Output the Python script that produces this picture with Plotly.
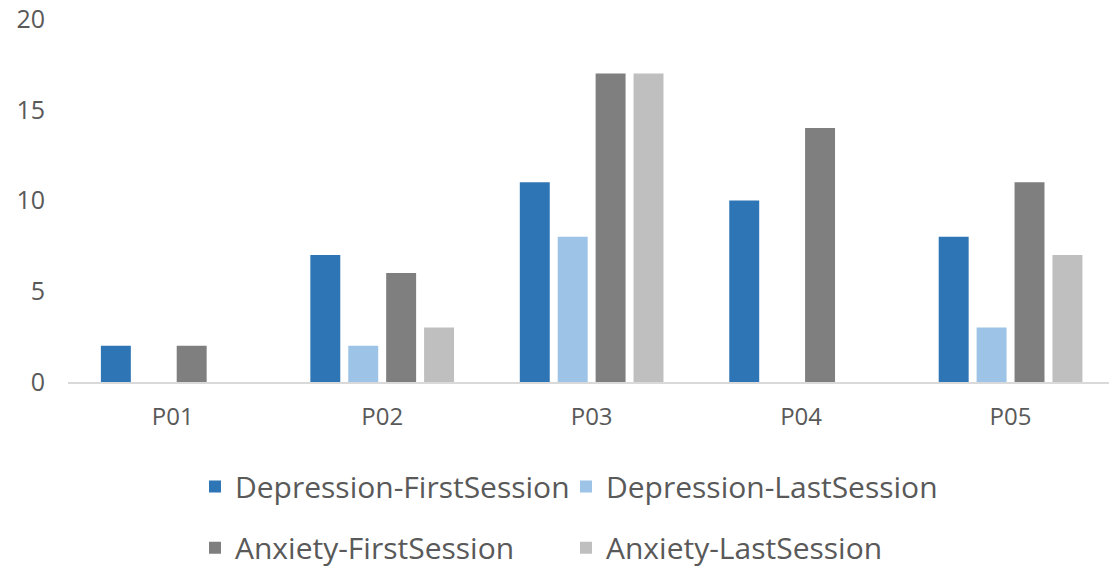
import plotly.graph_objects as go

categories = ["P01", "P02", "P03", "P04", "P05"]
dep_first = [2, 7, 11, 10, 8]
dep_last = [0, 2, 8, 0, 3]
anx_first = [2, 6, 17, 14, 11]
anx_last = [0, 3, 17, 0, 7]

series = [
    ("Depression-FirstSession", dep_first, "#2E75B6", "legend"),
    ("Depression-LastSession", dep_last, "#9DC3E6", "legend"),
    ("Anxiety-FirstSession", anx_first, "#7F7F7F", "legend2"),
    ("Anxiety-LastSession", anx_last, "#BFBFBF", "legend2"),
]

FONT = "Open Sans"
TXT = "#595959"

fig = go.Figure()
for name, vals, color, lg in series:
    fig.add_trace(go.Bar(x=categories, y=vals, name=name, marker_color=color,
                         marker_line_width=0, legend=lg))

legend_common = dict(orientation="h", xanchor="left", yanchor="middle",
                     xref="paper", yref="container",
                     font=dict(family=FONT, size=30, color=TXT),
                     entrywidth=326, entrywidthmode="pixels",
                     bgcolor="rgba(0,0,0,0)")

fig.update_layout(
    width=1109, height=567,
    margin=dict(l=68, r=0, t=19, b=185),
    plot_bgcolor="white", paper_bgcolor="white",
    barmode="group", bargap=0.276, bargroupgap=0.21,
    font=dict(family=FONT, color=TXT),
    legend=dict(x=0.122, y=0.142, **legend_common),
    legend2=dict(x=0.122, y=0.034, **legend_common),
    xaxis=dict(range=[-0.5, 4.47], showgrid=False, showline=True,
               linecolor="#D9D9D9", linewidth=2, ticks="", automargin=False,
               ticklabelstandoff=12,
               tickfont=dict(family=FONT, size=24, color=TXT)),
    yaxis=dict(range=[0, 20], tickvals=[0, 5, 10, 15, 20], showgrid=False,
               zeroline=False, showline=False, ticks="", automargin=False,
               ticklabelstandoff=22,
               tickfont=dict(family=FONT, size=25, color=TXT)),
)

fig.write_html("out.html", config={"displayModeBar": False},
               post_script="document.body.style.margin='0';document.body.style.overflow='hidden';")
